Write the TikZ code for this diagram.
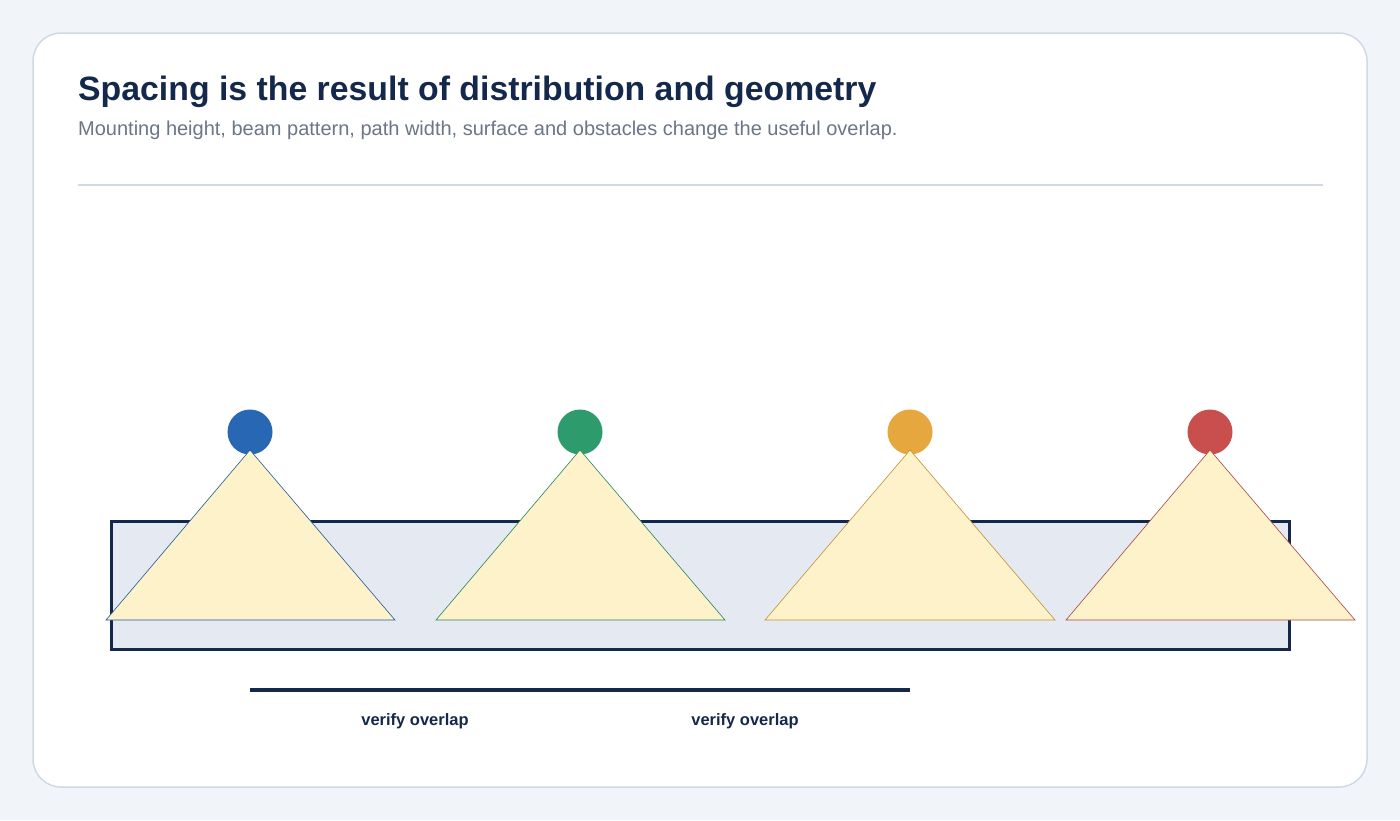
\documentclass[tikz,border=0pt]{standalone}
\usepackage{fontspec}
\setmainfont{Liberation Sans}
\definecolor{pagebg}{HTML}{F1F5FA}
\definecolor{cardline}{HTML}{D0D9E5}
\definecolor{navy}{HTML}{14284B}
\definecolor{subgray}{HTML}{6B7686}
\definecolor{roadfill}{HTML}{E5EAF2}
\definecolor{beamfill}{HTML}{FDF2C9}
\definecolor{cblue}{HTML}{2767B4}
\definecolor{cgreen}{HTML}{2E9B6D}
\definecolor{corange}{HTML}{E6A83E}
\definecolor{cred}{HTML}{C84F4E}
\tikzset{
  lamp/.style={circle, fill=#1, draw=none, minimum size=45pt, inner sep=0pt},
  beam/.style={fill=beamfill, draw=#1!85!black, line width=0.6pt, line join=miter},
  lbl/.style={text=navy, font=\fontsize{16.5}{18}\selectfont\bfseries, inner sep=0pt, anchor=center}
}
\begin{document}
\begin{tikzpicture}[x=1pt,y=-1pt]
\fill[pagebg] (0,0) rectangle (1400,820);
\useasboundingbox (0,0) rectangle (1400,820);
\draw[cardline, fill=white, line width=1.5pt, rounded corners=28pt] (33,33) rectangle (1367,787);
\node[anchor=base west, inner sep=0pt, text=navy, font=\fontsize{33.8}{38}\selectfont\bfseries] (title) at (78,100) {Spacing is the result of distribution and geometry};
\node[anchor=base west, inner sep=0pt, text=subgray, font=\fontsize{20}{24}\selectfont] (sub) at (78,135) {Mounting height, beam pattern, path width, surface and obstacles change the useful overlap.};
\draw[cardline, line width=1.5pt] (78,185) -- (1323,185);
% road
\draw[navy, fill=roadfill, line width=3pt] (111,521) rectangle (1289,649);
% lamps
\node[lamp=cblue] (l1) at (250,432) {};
\node[lamp=cgreen] (l2) at (580,432) {};
\node[lamp=corange] (l3) at (910,432) {};
\node[lamp=cred] (l4) at (1210,432) {};
% beams
\draw[beam=cblue] (250,450) -- (395,620) -- (106,620) -- cycle;
\draw[beam=cgreen] (580,450) -- (725,620) -- (436,620) -- cycle;
\draw[beam=corange] (910,450) -- (1055,620) -- (765,620) -- cycle;
\draw[beam=cred] (1210,450) -- (1355,620) -- (1066,620) -- cycle;
% spacing bar
\coordinate (s1) at (l1 |- 0,690);
\coordinate (s3) at (l3 |- 0,690);
\draw[navy, line width=4pt] (s1) -- (s3);
\node[lbl] (v1) at (415,721) {verify overlap};
\node[lbl] (v2) at (745,721) {verify overlap};
\end{tikzpicture}
\end{document}
